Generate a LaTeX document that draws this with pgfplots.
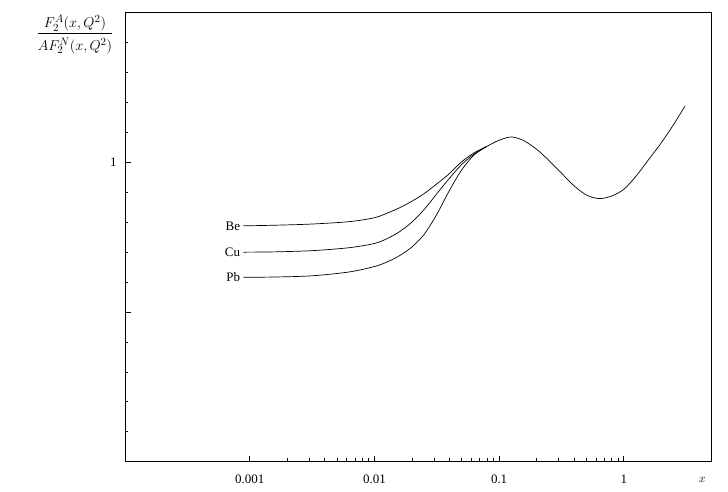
\documentclass[border=0pt]{standalone}
\usepackage{fontspec}
\setmainfont{Liberation Serif}
\usepackage{pgfplots}
\pgfplotsset{compat=1.18}
\usepackage{pgfplotstable}
\pgfplotstableread{
x y
0.07943 1.053
0.1000 1.074
0.1259 1.085
0.1585 1.072
0.1995 1.044
0.2512 1.006
0.3162 0.964
0.3981 0.922
0.5012 0.891
0.6310 0.879
0.7943 0.887
1.000 0.910
1.259 0.955
1.585 1.010
1.995 1.065
2.512 1.127
3.090 1.188
}\tail
\begin{document}
\fontsize{13}{15}\selectfont
\begin{tikzpicture}
\path[use as bounding box] (-125bp,-30.3bp) rectangle (603bp,461.7bp);
\begin{axis}[
  scale only axis, width=586bp, height=449bp,
  at={(0,0)}, anchor=south west,
  xmode=log, xmin=1e-4, xmax=5, ymin=0, ymax=1.5,
  axis line style={line width=0.8pt},
  tick style={black, line width=0.7pt},
  tick align=inside,
  xtick pos=bottom, ytick pos=left,
  xtick={0.001,0.01,0.1,1},
  xticklabels={0.001,0.01,0.1,1},
  ytick={0.5,1}, yticklabels={,1},
  minor ytick={0.1,0.2,0.3,0.4,0.6,0.7,0.8,0.9,1.1,1.2,1.3,1.4},
  major tick length=6bp, minor tick length=3.5bp,
  /pgf/number format/assume math mode=true,
  xticklabel style={font=\fontsize{13}{15}\selectfont, yshift=-9bp},
  yticklabel style={font=\fontsize{13}{15}\selectfont, xshift=-4bp},
  clip=false,
]
\addplot[black, line width=0.7pt, smooth] coordinates {
(0.000891,0.788) (0.001585,0.790) (0.003162,0.794) (0.00631,0.802) (0.01,0.815)
(0.01259,0.830) (0.01585,0.848) (0.01995,0.870) (0.02512,0.896) (0.03162,0.928)
(0.03981,0.962) (0.05012,1.002) (0.0631,1.032) (0.07943,1.053)
} node[pos=0, anchor=east, inner sep=3bp] {Be};
\addplot[black, line width=0.7pt, smooth] coordinates {
(0.000891,0.700) (0.001585,0.701) (0.003162,0.705) (0.00631,0.715) (0.01,0.729)
(0.01259,0.745) (0.01585,0.768) (0.01995,0.800) (0.02512,0.843) (0.03162,0.895)
(0.03981,0.946) (0.05012,0.993) (0.0631,1.028) (0.07943,1.053)
} node[pos=0, anchor=east, inner sep=3bp] {Cu};
\addplot[black, line width=0.7pt, smooth] coordinates {
(0.000891,0.616) (0.001585,0.617) (0.003162,0.621) (0.00631,0.634) (0.01,0.652)
(0.01259,0.667) (0.01585,0.688) (0.01995,0.717) (0.02512,0.760) (0.03162,0.826)
(0.03981,0.905) (0.05012,0.975) (0.0631,1.025) (0.07943,1.053)
} node[pos=0, anchor=east, inner sep=3bp] {Pb};
\addplot[black, line width=0.7pt, smooth] table {\tail};
\node[anchor=north] at (rel axis cs:0.985,0) [yshift=-11bp] {$x$};
\end{axis}
\node[font=\fontsize{15.5}{18}\selectfont] at (-50bp,427.4bp) {$\displaystyle\frac{F_2^A(x,Q^2)\rule[-3pt]{0pt}{3pt}}{\rule{0pt}{15pt}AF_2^N(x,Q^2)}$};
\end{tikzpicture}
\end{document}
